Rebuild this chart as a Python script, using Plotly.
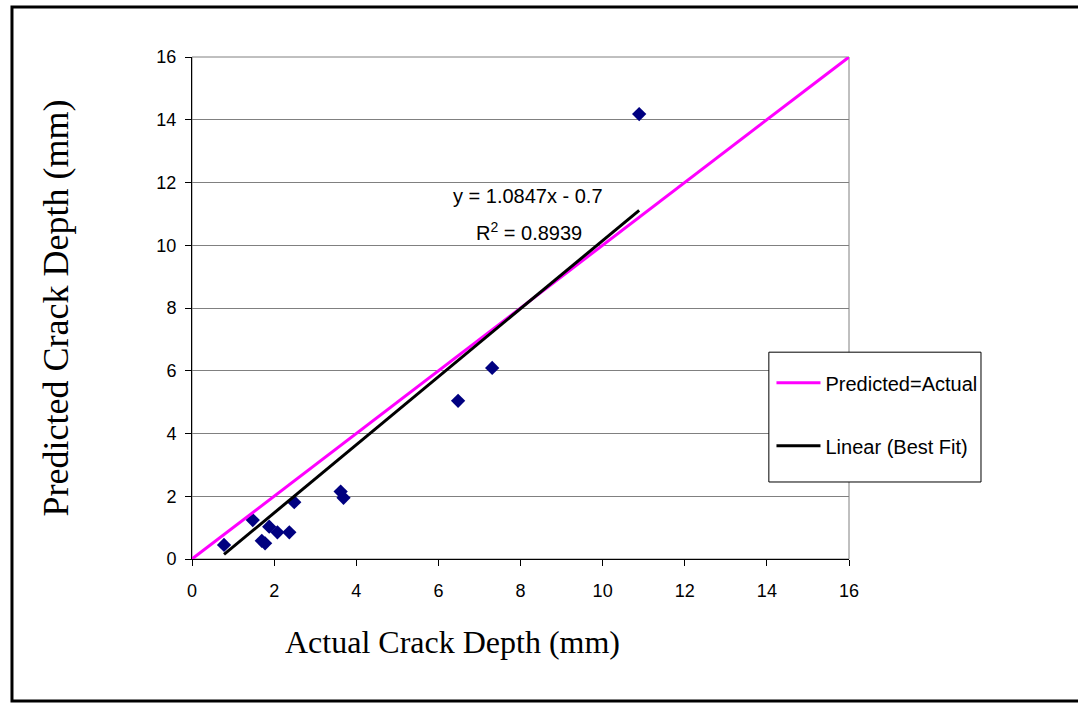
import plotly.graph_objects as go

# Measured vs predicted crack depth (mm)
actual = [0.78, 1.48, 1.70, 1.78, 1.88, 2.08, 2.37, 2.49, 3.62, 3.69, 6.48, 7.31, 10.89]
predicted = [0.45, 1.24, 0.58, 0.50, 1.03, 0.85, 0.85, 1.81, 2.15, 1.95, 5.04, 6.09, 14.18]

# Line of equality
equality_x = [0, 16]
equality_y = [0, 16]

# Least-squares fit coefficients (slope, intercept) and R^2
fit_slope = 1.0847
fit_intercept = -0.7
fit_r2 = 0.8939

tick_vals = [0, 2, 4, 6, 8, 10, 12, 14, 16]

fit_x = [min(actual), max(actual)]
fit_y = [fit_slope * v + fit_intercept for v in fit_x]

fig = go.Figure()

fig.add_trace(go.Scatter(
    x=actual, y=predicted, mode="markers",
    marker=dict(symbol="diamond", size=11, color="#000080"),
    showlegend=False, name="Data",
))
fig.add_trace(go.Scatter(
    x=equality_x, y=equality_y, mode="lines",
    line=dict(color="#FF00FF", width=3),
    name="Predicted=Actual", legendgroup="eq",
))
fig.add_trace(go.Scatter(
    x=fit_x, y=fit_y, mode="lines",
    line=dict(color="#000000", width=3),
    name="Linear (Best Fit)", legendgroup="fit",
))

axis_common = dict(
    range=[0, 16], tickvals=tick_vals, showgrid=False, zeroline=False,
    showline=True, linecolor="#000000", linewidth=1,
    ticks="outside", ticklen=6, tickcolor="#000000",
    tickfont=dict(family="Liberation Sans, Arial", size=18, color="#000000"),
)

title_font = dict(family="Liberation Serif, Times New Roman", color="#000000")

fig.update_xaxes(**axis_common, ticklabelstandoff=9)
fig.update_yaxes(
    **{**axis_common, "showgrid": True},
    ticklabelstandoff=5,
    gridcolor="#808080", gridwidth=1,
    title=dict(text="Predicted Crack Depth (mm)", standoff=76,
               font=dict(size=36, **title_font)),
)

# x-axis title, set left of the plot centre
fig.add_annotation(x=0.396, y=-0.165, xref="paper", yref="paper",
                   xanchor="center", yanchor="middle", showarrow=False,
                   text="Actual Crack Depth (mm)", font=dict(size=32, **title_font))

# Plot-area border, legend box and outer frame
fig.add_shape(type="rect", xref="paper", yref="paper", x0=0, y0=0, x1=1, y1=1,
              line=dict(color="#808080", width=1), layer="below")
fig.add_shape(type="rect", xref="paper", yref="paper", x0=0.878, y0=0.1534, x1=1.2009, y1=0.412,
              line=dict(color="#000000", width=1), fillcolor="white", layer="above")
fig.add_shape(type="rect", xref="paper", yref="paper", x0=-0.274, y0=-0.283, x1=1.36, y1=1.0996,
              line=dict(color="#000000", width=3))

# Fit equation labels
label_font = dict(family="Liberation Sans, Arial", size=20, color="#000000")
fig.add_annotation(x=8.18, y=11.57, xref="x", yref="y", showarrow=False,
                   text=f"y = {fit_slope}x - {abs(fit_intercept)}", font=label_font)
fig.add_annotation(x=8.2, y=10.45, xref="x", yref="y", showarrow=False,
                   text=f"R<sup>2</sup> = {fit_r2}", font=label_font)

fig.update_layout(
    width=1078, height=708,
    margin=dict(l=192, r=229, t=57, b=149),
    paper_bgcolor="white", plot_bgcolor="white",
    legend=dict(
        x=0.882, y=0.39, xanchor="left", yanchor="top",
        bgcolor="rgba(0,0,0,0)", borderwidth=0,
        font=dict(family="Liberation Sans, Arial", size=20, color="#000000"),
        tracegroupgap=34, itemwidth=44,
    ),
)

fig.write_html("out.html")
